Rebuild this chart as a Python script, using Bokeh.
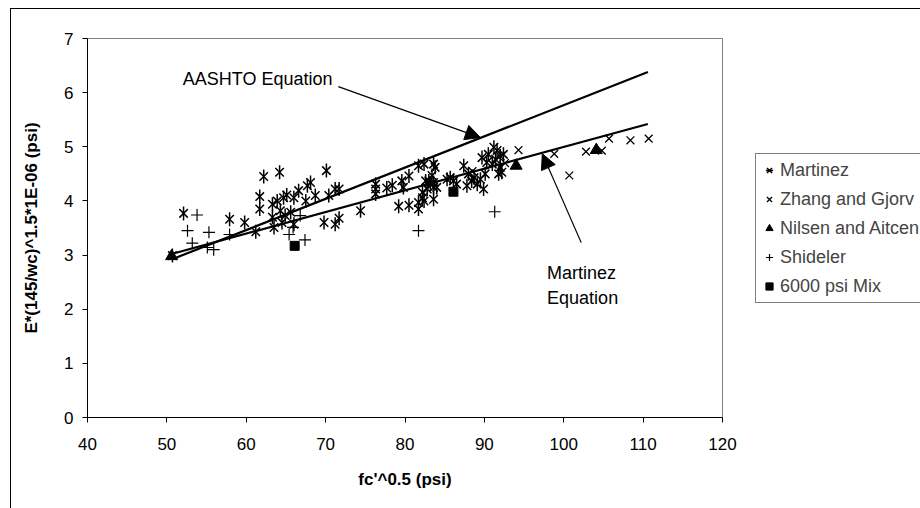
import math
from bokeh.plotting import figure
from bokeh.layouts import row
from bokeh.models import (Range1d, Legend, LegendItem, Arrow, NormalHead, Label, FixedTicker)
from bokeh.embed import file_html
from bokeh.resources import INLINE

# ---- data ----
martinez_x = [50.7, 52.1, 57.9, 59.8, 61.2, 62.2, 64.2, 61.7, 61.7, 63.3, 63.9, 64.7, 65.1, 66.0,
              66.6, 67.5, 68.7, 70.4, 71.2, 71.7, 63.3, 64.3, 64.9, 65.6, 64.5, 63.5, 66.0, 69.8,
              71.2, 71.7, 70.1, 68.1, 67.7, 74.4, 76.3, 76.3, 76.3, 77.7, 78.4, 79.6, 79.8, 80.5,
              79.2, 80.5, 81.7, 81.7, 81.7, 82.4, 82.6, 82.8, 82.2, 82.2, 82.4, 83.0, 83.2, 83.6,
              83.6, 84.0, 83.6, 83.8, 83.4, 83.6, 85.3, 85.7, 86.1, 86.5, 87.4, 88.0, 88.4, 88.7,
              87.8, 89.1, 89.5, 89.9, 90.1, 89.7, 90.5, 91.2, 91.6, 90.3, 91.0, 91.4, 92.0, 92.4,
              92.0, 92.2, 91.8]
martinez_y = [2.99, 3.77, 3.66, 3.60, 3.43, 4.45, 4.53, 4.08, 3.85, 3.94, 4.00, 4.06, 4.11, 4.06,
              4.19, 4.00, 4.10, 4.10, 4.22, 4.22, 3.70, 3.82, 3.73, 3.79, 3.60, 3.51, 3.57, 3.60,
              3.57, 3.68, 4.56, 4.34, 4.28, 3.82, 4.31, 4.22, 4.13, 4.24, 4.29, 4.37, 4.25, 4.46,
              3.90, 3.92, 3.85, 3.97, 4.65, 4.68, 4.37, 4.22, 4.16, 4.06, 4.00, 4.37, 4.31, 4.25,
              4.03, 4.25, 4.68, 4.62, 4.47, 4.34, 4.40, 4.43, 4.37, 4.31, 4.65, 4.50, 4.37, 4.43,
              4.28, 4.31, 4.40, 4.22, 4.50, 4.80, 4.86, 4.99, 4.93, 4.71, 4.68, 4.77, 4.83, 4.86,
              4.62, 4.53, 4.50]

zhang_x = [88.5, 92.6, 94.3, 98.8, 100.7, 102.8, 104.8, 105.7, 108.4, 110.7]
zhang_y = [4.55, 4.70, 4.94, 4.87, 4.47, 4.91, 4.93, 5.15, 5.12, 5.15]

nilsen_x = [50.6, 94.0, 104.1]
nilsen_y = [2.98, 4.65, 4.94]

shideler_x = [53.8, 52.6, 55.3, 53.2, 55.1, 55.9, 57.9, 65.9, 65.4, 67.4, 66.8, 81.7, 91.3]
shideler_y = [3.74, 3.45, 3.42, 3.22, 3.14, 3.10, 3.38, 3.51, 3.38, 3.28, 3.73, 3.45, 3.80]

mix_x = [66.1, 86.1]
mix_y = [3.17, 4.17]

aashto_x = [50.6, 110.6]
aashto_y = [2.92, 6.38]
mart_eq_x = [50.6, 110.6]
mart_eq_y = [3.02, 5.42]

series_names = ["Martinez", "Zhang and Gjorv", "Nilsen and Aitcen", "Shideler", "6000 psi Mix"]

x_ticks = [40, 50, 60, 70, 80, 90, 100, 110, 120]
y_ticks = [0, 1, 2, 3, 4, 5, 6, 7]

FONT = "Liberation Sans"

# ---------------- main chart ----------------
p = figure(width=742, height=508, output_backend="svg", toolbar_location=None,
           x_range=Range1d(40, 120), y_range=Range1d(0, 7),
           min_border_left=87, min_border_right=20, min_border_top=38, min_border_bottom=91)
p.background_fill_color = "white"
p.border_fill_alpha = 0
# outer chart border (top-left corner at 10,8; right and bottom edges fall outside the picture)
p.styles = {"background-color": "white",
            "box-shadow": "inset 10px 8px 0 0 white, inset 11px 9px 0 0 black"}
p.outline_line_color = "#808080"
p.outline_line_width = 1
p.xgrid.visible = False
p.ygrid.visible = False

for ax in (p.xaxis[0], p.yaxis[0]):
    ax.axis_line_color = "black"
    ax.major_tick_line_color = "black"
    ax.major_tick_in = 0
    ax.major_tick_out = 5
    ax.minor_tick_line_color = None
    ax.major_label_text_font = FONT
    ax.major_label_text_font_size = "17px"
    ax.major_label_text_color = "black"
    ax.axis_label_text_font = FONT
    ax.axis_label_text_font_size = "17px"
    ax.axis_label_text_font_style = "bold"
    ax.axis_label_text_color = "black"

p.xaxis.ticker = FixedTicker(ticks=x_ticks)
p.yaxis.ticker = FixedTicker(ticks=y_ticks)
p.xaxis.axis_label = "fc'^0.5 (psi)"
p.yaxis.axis_label = "E*(145/wc)^1.5*1E-06 (psi)"
p.xaxis.major_label_standoff = 15
p.xaxis.axis_label_standoff = 17
p.yaxis.major_label_standoff = 9
p.yaxis.axis_label_standoff = 20

# equation lines
p.line(aashto_x, aashto_y, line_color="black", line_width=2.2)
p.line(mart_eq_x, mart_eq_y, line_color="black", line_width=2.2)

STY_M = dict(marker="x", size=12, line_color="black", line_width=1.5)
STY_M2 = dict(marker="dash", size=14, angle=math.pi / 2, line_color="black", line_width=1.5)
STY_Z = dict(marker="x", size=11, line_color="black", line_width=1.3)
STY_N = dict(marker="triangle", size=12, fill_color="black", line_color="black")
STY_S = dict(marker="cross", size=12, line_color="black", line_width=1.2)
STY_X = dict(marker="square", size=9, fill_color="black", line_color="black")

p.scatter(martinez_x, martinez_y, **STY_M)
p.scatter(martinez_x, martinez_y, **STY_M2)
p.scatter(zhang_x, zhang_y, **STY_Z)
p.scatter(nilsen_x, nilsen_y, **STY_N)
p.scatter(shideler_x, shideler_y, **STY_S)
p.scatter(mix_x, mix_y, **STY_X)

# arrows and annotation text
p.add_layout(Arrow(end=NormalHead(size=15, fill_color="black", line_color="black"),
                   x_start=71.6, y_start=6.11, x_end=89.5, y_end=5.17,
                   line_color="black", line_width=1.2))
p.add_layout(Arrow(end=NormalHead(size=15, fill_color="black", line_color="black"),
                   x_start=102.2, y_start=3.23, x_end=97.3, y_end=4.87,
                   line_color="black", line_width=1.2))

for txt, xx, yy in [("AASHTO Equation", 52.0, 6.25), ("Martinez", 97.9, 2.66), ("Equation", 97.9, 2.21)]:
    p.add_layout(Label(x=xx, y=yy, text=txt, text_font=FONT, text_font_size="18px",
                       text_baseline="middle", text_align="left", text_color="black"))

# ---------------- legend strip (right of plot area) ----------------
# same series drawn in a strip whose view range lies outside the data, so only the legend shows
q = figure(width=178, height=508, output_backend="svg", toolbar_location=None,
           x_range=Range1d(0, 1), y_range=Range1d(0, 1),
           x_axis_location=None, y_axis_location=None, min_border=0)
q.border_fill_alpha = 0
q.background_fill_alpha = 0
q.outline_line_color = None
q.xgrid.visible = False
q.ygrid.visible = False
q.styles = {"background-color": "white",
            "box-shadow": "inset 0 8px 0 0 white, inset 0 9px 0 0 black"}

l_m1 = q.scatter(martinez_x, martinez_y, **STY_M)
l_m2 = q.scatter(martinez_x, martinez_y, **STY_M2)
l_z = q.scatter(zhang_x, zhang_y, **STY_Z)
l_n = q.scatter(nilsen_x, nilsen_y, **STY_N)
l_s = q.scatter(shideler_x, shideler_y, **STY_S)
l_x = q.scatter(mix_x, mix_y, **STY_X)

legend = Legend(items=[
    LegendItem(label=series_names[0], renderers=[l_m1, l_m2]),
    LegendItem(label=series_names[1], renderers=[l_z]),
    LegendItem(label=series_names[2], renderers=[l_n]),
    LegendItem(label=series_names[3], renderers=[l_s]),
    LegendItem(label=series_names[4], renderers=[l_x]),
], location=(13, 114))
legend.label_text_font = FONT
legend.label_text_font_size = "18px"
legend.label_height = 24
legend.glyph_height = 24
legend.glyph_width = 18
legend.spacing = 5
legend.padding = 4
legend.margin = 0
legend.label_standoff = 2
legend.border_line_color = "black"
legend.border_line_width = 1
legend.background_fill_color = "white"
legend.background_fill_alpha = 1
q.add_layout(legend, "center")

layout = row(p, q, spacing=0)
open("out.html", "w").write(file_html(layout, INLINE))
